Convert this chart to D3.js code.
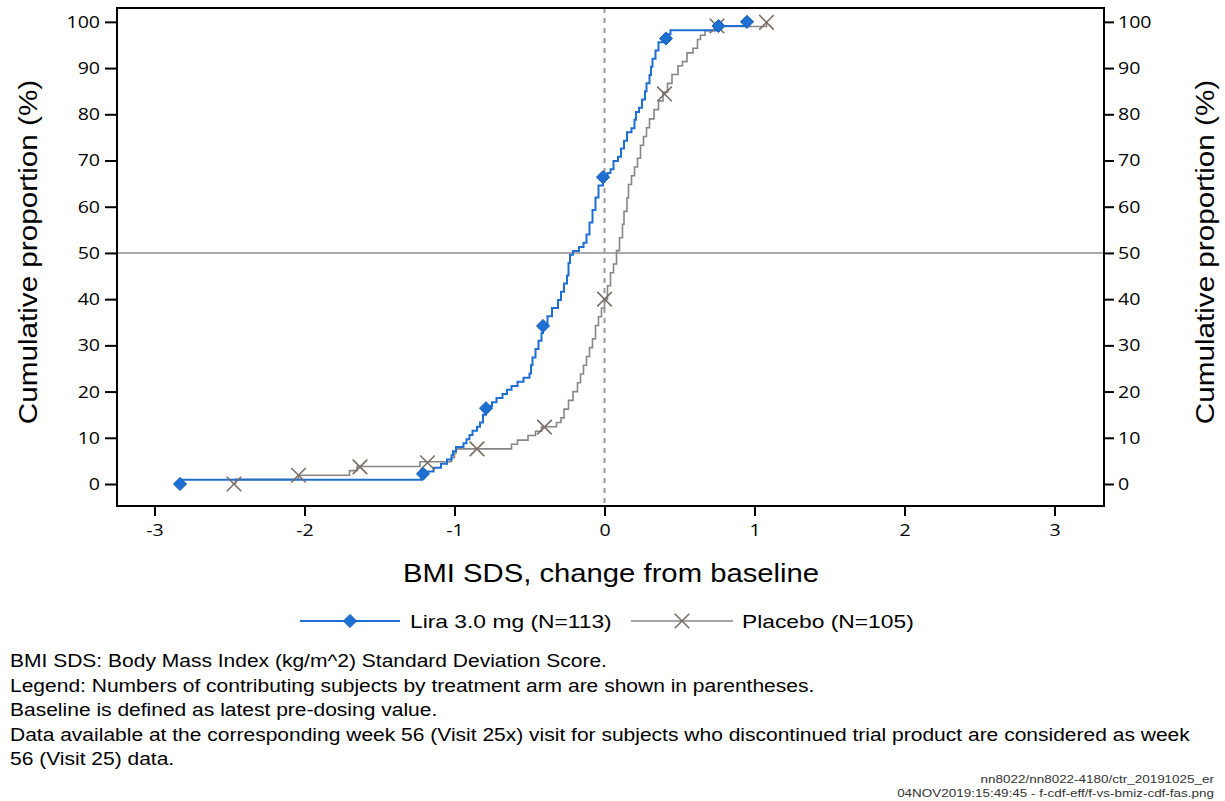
<!DOCTYPE html>
<html>
<head>
<meta charset="utf-8">
<script src="https://cdn.jsdelivr.net/npm/d3@7"></script>
<style>
  body { margin: 0; background: #ffffff; }
  text { font-family: "Liberation Sans", Arial, sans-serif; }
</style>
</head>
<body>
<script>
// cumulative distribution (x = change in BMI SDS, y = cumulative %)
var liraX = [-2.83, -2.83, -1.22, -1.19, -1.14, -1.09, -1.05, -1.02, -1.01, -0.99, -0.94, -0.92, -0.90, -0.88,
  -0.85, -0.83, -0.81, -0.79, -0.75, -0.72, -0.68, -0.65, -0.62, -0.58, -0.54, -0.50, -0.49, -0.48, -0.46,
  -0.44, -0.42, -0.41, -0.38, -0.35, -0.31, -0.29, -0.27, -0.25, -0.24, -0.23, -0.21, -0.17, -0.14, -0.12,
  -0.10, -0.08, -0.06, -0.04, -0.01, 0.02, 0.04, 0.06, 0.09, 0.11, 0.13, 0.15, 0.18, 0.20, 0.21, 0.23, 0.25,
  0.27, 0.28, 0.30, 0.31, 0.32, 0.34, 0.36, 0.39, 0.41, 0.44, 0.76, 0.95];
var liraPct = [0, 0.9, 1.8, 2.7, 3.5, 4.4, 5.3, 6.2, 7.1, 8.0, 8.8, 9.7, 10.6, 11.5,
  12.4, 13.3, 15.0, 16.8, 17.7, 18.6, 19.5, 20.4, 21.2, 22.1, 23.0, 23.9, 25.7, 27.4, 29.2,
  31.0, 32.7, 34.5, 36.3, 38.1, 39.8, 41.6, 43.4, 45.1, 47.8, 49.6, 50.4, 51.3, 52.2, 54.0,
  56.6, 59.3, 62.0, 64.6, 66.4, 67.3, 68.1, 69.9, 70.8, 72.6, 74.3, 76.1, 77.0, 78.8, 80.5, 81.4, 83.2,
  85.0, 86.7, 88.5, 90.3, 92.0, 93.8, 95.6, 96.5, 97.3, 98.2, 99.1, 100];

var placeboX = [-2.46, -2.46, -2.04, -1.70, -1.65, -1.23, -1.02, -1.00, -0.99, -0.62, -0.58, -0.51, -0.46,
  -0.42, -0.32, -0.29, -0.27, -0.24, -0.21, -0.18, -0.16, -0.14, -0.12, -0.10, -0.08, -0.06, -0.04, -0.02,
  0.00, 0.02, 0.04, 0.06, 0.08, 0.10, 0.12, 0.13, 0.15, 0.16, 0.18, 0.20, 0.22, 0.24, 0.26, 0.28, 0.30,
  0.33, 0.36, 0.39, 0.42, 0.45, 0.49, 0.52, 0.55, 0.59, 0.62, 0.64, 0.67, 0.74, 1.08];
var placeboPct = [0, 1.0, 1.9, 2.9, 3.8, 4.8, 5.7, 6.7, 7.6, 8.6, 9.5, 10.5, 11.4,
  12.4, 13.3, 14.3, 16.2, 18.1, 20.0, 21.9, 23.8, 25.7, 27.6, 29.5, 31.4, 34.3, 36.2, 38.1,
  40.0, 42.9, 45.7, 47.6, 50.5, 53.3, 56.2, 59.0, 61.9, 64.8, 66.7, 68.6, 70.5, 73.3, 75.2, 77.1, 79.0,
  81.0, 82.9, 84.8, 86.7, 88.6, 90.5, 91.4, 93.3, 94.3, 96.2, 97.1, 98.1, 99.0, 100];

// symbols drawn along each curve
var liraMarkX = [-2.83, -1.21, -0.79, -0.41, -0.01, 0.41, 0.76, 0.95];
var liraMarkY = [0, 2.2, 16.4, 34.2, 66.4, 96.4, 99.1, 100];
var placeboMarkX = [-2.47, -2.04, -1.63, -1.18, -0.85, -0.40, 0.00, 0.40, 0.75, 1.08];
var placeboMarkY = [0, 1.9, 3.7, 4.6, 7.6, 12.3, 40.0, 84.4, 99.1, 99.9];

var xTicks = [-3, -2, -1, 0, 1, 2, 3];
var yTicks = [0, 10, 20, 30, 40, 50, 60, 70, 80, 90, 100];

var legendLabels = ["Lira 3.0 mg (N=113)", "Placebo (N=105)"];
var footnotes = [
  "BMI SDS: Body Mass Index (kg/m^2) Standard Deviation Score.",
  "Legend: Numbers of contributing subjects by treatment arm are shown in parentheses.",
  "Baseline is defined as latest pre-dosing value.",
  "Data available at the corresponding week 56 (Visit 25x) visit for subjects who discontinued trial product are considered as week",
  "56 (Visit 25) data."
];
var sourceLines = ["nn8022/nn8022-4180/ctr_20191025_er", "04NOV2019:15:49:45 - f-cdf-eff/f-vs-bmiz-cdf-fas.png"];

const W = 1225, H = 801;
var plot = {left: 117, right: 1104, top: 8, bottom: 506};
var blue = "#1f6fd2", grey = "#868686", crossCol = "#7a6e66";

var svg = d3.select("body").append("svg")
  .attr("width", W)
  .attr("height", H);

// the original picture is a bit wider than tall, so text is widened to match
function widen(sel, k) {
  sel.each(function() {
    var len = this.getComputedTextLength();
    d3.select(this).attr("textLength", len * k).attr("lengthAdjust", "spacingAndGlyphs");
  });
}

var x = d3.scaleLinear().domain([-3.25, 3.33]).range([plot.left, plot.right]);
var y = d3.scaleLinear().domain([-4.76, 103.0]).range([plot.bottom, plot.top]);

// reference lines
svg.append("line")
  .attr("x1", plot.left).attr("x2", plot.right)
  .attr("y1", y(50)).attr("y2", y(50))
  .style("stroke", "#8c8c8c").style("stroke-width", 1.5);
svg.append("line")
  .attr("x1", x(0)).attr("x2", x(0))
  .attr("y1", plot.top).attr("y2", plot.bottom)
  .style("stroke", "#9a9a9a").style("stroke-width", 2)
  .style("stroke-dasharray", "5,5");

var line = d3.line()
  .x(function(d) { return x(d[0]); })
  .y(function(d) { return y(d[1]); })
  .curve(d3.curveStepAfter);

var placebo = d3.zip(placeboX, placeboPct);
var lira = d3.zip(liraX, liraPct);

svg.append("path")
  .datum(placebo)
  .attr("d", line)
  .style("fill", "none")
  .style("stroke", grey)
  .style("stroke-width", 1.6);

svg.append("path")
  .datum(lira)
  .attr("d", line)
  .style("fill", "none")
  .style("stroke", blue)
  .style("stroke-width", 2);

var diamond = d3.symbol().type(d3.symbolDiamond2).size(110);
var cross = d3.symbol().type(d3.symbolX).size(140);

// X markers for placebo
svg.selectAll(".pmark")
  .data(d3.zip(placeboMarkX, placeboMarkY))
  .enter().append("path")
  .attr("class", "pmark")
  .attr("d", cross)
  .attr("transform", function(d) { return "translate(" + x(d[0]) + "," + y(d[1]) + ")"; })
  .style("fill", "none")
  .style("stroke", crossCol)
  .style("stroke-width", 1.6);

// diamonds for lira
svg.selectAll(".lmark")
  .data(d3.zip(liraMarkX, liraMarkY))
  .enter().append("path")
  .attr("class", "lmark")
  .attr("d", diamond)
  .attr("transform", function(d) { return "translate(" + x(d[0]) + "," + y(d[1]) + ")"; })
  .style("fill", blue)
  .style("stroke", "#1a5fb8")
  .style("stroke-width", 1);

// frame
svg.append("rect")
  .attr("x", plot.left).attr("y", plot.top)
  .attr("width", plot.right - plot.left).attr("height", plot.bottom - plot.top)
  .style("fill", "none").style("stroke", "#000").style("stroke-width", 2);

// axes
var tickFont = "'Open Sans', 'DejaVu Sans', sans-serif";
function styleAxis(g) {
  g.select(".domain").remove();
  g.selectAll(".tick line").style("stroke", "#000").style("stroke-width", 2);
  g.selectAll(".tick text").style("font-family", tickFont).style("font-size", "17px").style("fill", "#000")
    .call(widen, 1.15);
}

svg.append("g")
  .attr("transform", "translate(" + plot.left + ",0)")
  .call(d3.axisLeft(y).tickValues(yTicks).tickSize(12).tickPadding(5))
  .call(styleAxis);

svg.append("g")
  .attr("transform", "translate(" + plot.right + ",0)")
  .call(d3.axisRight(y).tickValues(yTicks).tickSize(10).tickPadding(4))
  .call(styleAxis);

svg.append("g")
  .attr("transform", "translate(0," + plot.bottom + ")")
  .call(d3.axisBottom(x).tickValues(xTicks).tickSize(10).tickPadding(8).tickFormat(function(d) { return String(d); }))
  .call(styleAxis);

// axis titles
svg.append("text")
  .attr("transform", "translate(37,252) rotate(-90)")
  .attr("text-anchor", "middle")
  .style("font-size", "26px")
  .text("Cumulative proportion (%)")
  .call(widen, 1.14);
svg.append("text")
  .attr("transform", "translate(1214,252) rotate(-90)")
  .attr("text-anchor", "middle")
  .style("font-size", "26px")
  .text("Cumulative proportion (%)")
  .call(widen, 1.14);
svg.append("text")
  .attr("x", 611).attr("y", 582)
  .attr("text-anchor", "middle")
  .style("font-size", "25px")
  .text("BMI SDS, change from baseline")
  .call(widen, 1.17);

// legend
var legY = 621;
svg.append("line").attr("x1", 300).attr("x2", 400).attr("y1", legY).attr("y2", legY)
  .style("stroke", blue).style("stroke-width", 2);
svg.append("path").attr("d", diamond).attr("transform", "translate(350," + legY + ")")
  .style("fill", blue).style("stroke", "#1a5fb8");
svg.append("text").attr("x", 410).attr("y", legY + 7).style("font-size", "19px").text(legendLabels[0])
  .call(widen, 1.2);

svg.append("line").attr("x1", 631).attr("x2", 733).attr("y1", legY).attr("y2", legY)
  .style("stroke", grey).style("stroke-width", 1.6);
svg.append("path").attr("d", cross).attr("transform", "translate(682," + legY + ")")
  .style("fill", "none").style("stroke", crossCol).style("stroke-width", 1.6);
svg.append("text").attr("x", 742).attr("y", legY + 7).style("font-size", "19px").text(legendLabels[1])
  .call(widen, 1.2);

// footnotes
svg.selectAll(".foot")
  .data(footnotes)
  .enter().append("text")
  .attr("class", "foot")
  .attr("x", 10)
  .attr("y", function(d, i) { return 667 + i * 24.6; })
  .style("font-size", "17.5px")
  .text(function(d) { return d; })
  .call(widen, 1.2);

svg.selectAll(".src")
  .data(sourceLines)
  .enter().append("text")
  .attr("class", "src")
  .attr("x", 1214)
  .attr("y", function(d, i) { return 783 + i * 14; })
  .attr("text-anchor", "end")
  .style("font-size", "11.5px")
  .style("fill", "#333")
  .text(function(d) { return d; })
  .call(widen, 1.17);
</script>
</body>
</html>
